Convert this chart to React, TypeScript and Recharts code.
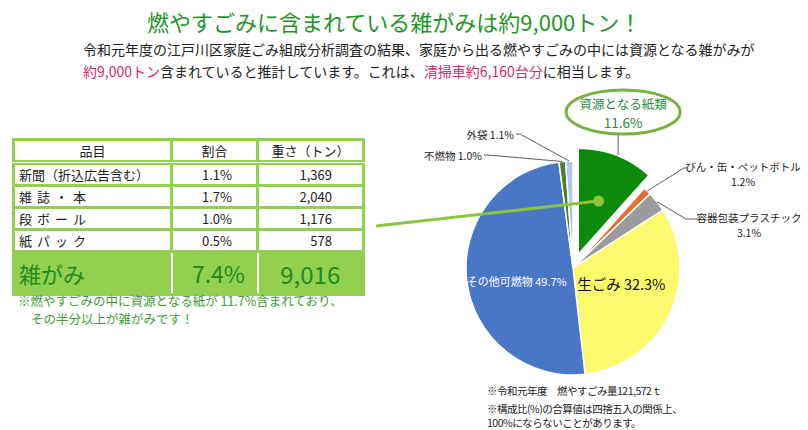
import React from 'react';
import { PieChart, Pie, Cell } from 'recharts';

// ---- data ----
const categories = ['資源となる紙類', 'びん・缶・ペットボトル', '容器包装プラスチック', '生ごみ', 'その他可燃物', '不燃物', '外袋'];
const shares = [11.6, 1.2, 3.1, 32.3, 49.7, 1.0, 1.1];

const tableHeaders = ['品目', '割合', '重さ（トン）'];
const paperItems = ['新聞（折込広告含む）', '雑誌・本', '段ボール', '紙パック'];
const paperShares = ['1.1%', '1.7%', '1.0%', '0.5%'];
const paperTons = ['1,369', '2,040', '1,176', '578'];
const totalLabel = '雑がみ';
const totalShare = '7.4%';
const totalTons = '9,016';

const pieData = categories.map((name, i) => ({ name, value: shares[i] }));

// ---- styles ----
const sliceColors = ['#0b8a0b', '#e2712f', '#9b9b9b', '#fafa6c', '#4a76c6', '#4f7d2c', '#aec8ea'];
const FONT = "'Noto Sans CJK JP', 'Noto Sans', sans-serif";
const RAD = Math.PI / 180;
const tableGreen = '#92d050';
const itemSpacing = [0, 5, 5, 5];

// label layout (positions of texts outside the pie)
const labelLayout: Record<string, any> = {
  'びん・缶・ペットボトル': { kind: 'right', tx: 743, ty: 166, lx: 688, elbow: 684 },
  '容器包装プラスチック': { kind: 'right', tx: 749, ty: 217, lx: 698, elbow: 686 },
  '不燃物': { kind: 'left', tx: 482, ty: 155 },
  '外袋': { kind: 'left', tx: 514, ty: 134 },
  'その他可燃物': { kind: 'inside', r: 0.53, dx: 0, dy: 6, color: '#ffffff', size: 11 },
  '生ごみ': { kind: 'inside', r: 0.5, dx: 0, dy: -7, color: '#111111', size: 14.5 },
};

const polar = (cx: number, cy: number, r: number, a: number) => ({
  x: cx + r * Math.cos(-a * RAD),
  y: cy + r * Math.sin(-a * RAD),
});

const renderMainLabel = (props: any) => {
  const { cx, cy, midAngle, outerRadius, name, value } = props;
  const lay = labelLayout[name];
  if (!lay) return null;
  const pct = `${value.toFixed(1)}%`;
  if (lay.kind === 'inside') {
    const p = polar(cx, cy, outerRadius * lay.r, midAngle);
    return (
      <text x={p.x + lay.dx} y={p.y + lay.dy} textAnchor="middle" dominantBaseline="central"
        fill={lay.color} fontSize={lay.size} fontFamily={FONT}>
        {`${name} ${pct}`}
      </text>
    );
  }
  const s = polar(cx, cy, outerRadius, midAngle);
  if (lay.kind === 'left') {
    return (
      <g>
        <polyline points={`${s.x},${s.y} ${lay.tx + 6},${lay.ty} ${lay.tx + 2},${lay.ty}`} fill="none" stroke="#333" strokeWidth={0.8} />
        <text x={lay.tx} y={lay.ty} textAnchor="end" dominantBaseline="central" fill="#222" fontSize={10.5} fontFamily={FONT}>
          {`${name} ${pct}`}
        </text>
      </g>
    );
  }
  return (
    <g>
      <polyline points={`${s.x},${s.y} ${lay.elbow},${lay.ty + 2} ${lay.lx},${lay.ty + 2}`} fill="none" stroke="#333" strokeWidth={0.8} />
      <text x={lay.tx} y={lay.ty} textAnchor="middle" dominantBaseline="central" fill="#222" fontSize={10.5} fontFamily={FONT}>
        {name}
      </text>
      <text x={lay.tx} y={lay.ty + 15} textAnchor="middle" dominantBaseline="central" fill="#222" fontSize={10.5} fontFamily={FONT}>
        {pct}
      </text>
    </g>
  );
};

const renderPaperLabel = (props: any) => {
  const { cx, cy, midAngle, outerRadius, name, value, index } = props;
  if (index !== 0) return null;
  const top = polar(cx, cy, outerRadius, midAngle);
  const dot = polar(cx, cy, outerRadius * 0.54, midAngle);
  const ex = top.x + 7;
  const ey = top.y - 43;
  return (
    <g>
      <line x1={dot.x} y1={dot.y} x2={376} y2={226} stroke="#8cc63f" strokeWidth={3} />
      <circle cx={dot.x} cy={dot.y} r={5.5} fill="#8cc63f" />
      <line x1={top.x + 2} y1={top.y} x2={top.x + 2} y2={ey + 22} stroke="#333" strokeWidth={0.8} />
      <ellipse cx={ex} cy={ey} rx={57} ry={22} fill="#ffffff" stroke="#77b043" strokeWidth={3} />
      <text x={ex} y={ey - 9} textAnchor="middle" dominantBaseline="central" fill="#2c8a3a" fontSize={12.5} fontFamily={FONT}>
        {name}
      </text>
      <text x={ex} y={ey + 10} textAnchor="middle" dominantBaseline="central" fill="#2c8a3a" fontSize={13.5} fontFamily={FONT}>
        {`${value.toFixed(1)}%`}
      </text>
    </g>
  );
};

const cellBase: React.CSSProperties = {
  border: `3px solid ${tableGreen}`,
  fontSize: 13,
  color: '#222',
  height: 19,
  padding: '0 4px',
  lineHeight: '19px',
  whiteSpace: 'nowrap',
};

export default function App() {
  return (
    <div style={{ position: 'absolute', left: 0, top: 0, width: 808, height: 430, background: '#fff', fontFamily: FONT, overflow: 'hidden' }}>
      {/* title */}
      <div style={{ position: 'absolute', left: 147, top: 6, fontSize: 22, color: '#1f962b', whiteSpace: 'nowrap', lineHeight: '30px' }}>
        燃やすごみに含まれている雑がみは約9,000トン！
      </div>
      <div style={{ position: 'absolute', left: 83, top: 38, fontSize: 14, color: '#222', whiteSpace: 'nowrap', lineHeight: '22px' }}>
        令和元年度の江戸川区家庭ごみ組成分析調査の結果、家庭から出る燃やすごみの中には資源となる雑がみが
        <br />
        <span style={{ color: '#d5276f' }}>約9,000トン</span>含まれていると推計しています。これは、
        <span style={{ color: '#d5276f' }}>清掃車約6,160台分</span>に相当します。
      </div>

      {/* table */}
      <table style={{ position: 'absolute', left: 12, top: 138, borderCollapse: 'collapse', width: 350, tableLayout: 'fixed' }}>
        <colgroup>
          <col style={{ width: 158 }} />
          <col style={{ width: 86 }} />
          <col style={{ width: 106 }} />
        </colgroup>
        <thead>
          <tr>
            {tableHeaders.map((h) => (
              <th key={h} style={{ ...cellBase, fontWeight: 400, textAlign: 'center', borderBottom: `5px double ${tableGreen}` }}>{h}</th>
            ))}
          </tr>
        </thead>
        <tbody>
          {paperItems.map((item, i) => (
            <tr key={item}>
              <td style={{ ...cellBase, textAlign: 'left', letterSpacing: itemSpacing[i] }}>{item}</td>
              <td style={{ ...cellBase, textAlign: 'right', paddingRight: 24 }}>{paperShares[i]}</td>
              <td style={{ ...cellBase, textAlign: 'right', paddingRight: 30 }}>{paperTons[i]}</td>
            </tr>
          ))}
          <tr style={{ background: tableGreen }}>
            <td style={{ ...cellBase, height: 40, fontSize: 22, color: '#1f8a1f', textAlign: 'left', borderRight: '2px solid #fff' }}>{totalLabel}</td>
            <td style={{ ...cellBase, height: 40, fontSize: 23, color: '#1f8a1f', textAlign: 'center', paddingLeft: 12, borderLeft: '2px solid #fff', borderRight: '2px solid #fff' }}>{totalShare}</td>
            <td style={{ ...cellBase, height: 40, fontSize: 24, color: '#1f8a1f', textAlign: 'center', borderLeft: '2px solid #fff' }}>{totalTons}</td>
          </tr>
        </tbody>
      </table>
      <div style={{ position: 'absolute', left: 18, top: 292, fontSize: 12.5, color: '#3f9a35', lineHeight: '18px', whiteSpace: 'nowrap' }}>
        ※燃やすごみの中に資源となる紙が 11.7%含まれており、
        <br />
        <span style={{ paddingLeft: 13 }}>その半分以上が雑がみです！</span>
      </div>

      {/* bottom notes */}
      <div style={{ position: 'absolute', left: 487, top: 384, fontSize: 10.5, letterSpacing: -0.5, color: '#222', lineHeight: '14px', whiteSpace: 'nowrap' }}>
        ※令和元年度　燃やすごみ量121,572ｔ
        <div style={{ marginTop: 4 }}>※構成比(%)の合算値は四捨五入の関係上、</div>
        <div>100%にならないことがあります。</div>
      </div>

      {/* pie */}
      <div style={{ position: 'absolute', left: 0, top: 0, pointerEvents: 'none' }}>
        <PieChart width={808} height={430} margin={{ top: 0, right: 0, bottom: 0, left: 0 }}>
          <Pie data={pieData} dataKey="value" nameKey="name" cx={573} cy={268} outerRadius={107}
            startAngle={90} endAngle={-270} isAnimationActive={false} label={renderMainLabel} labelLine={false}>
            {pieData.map((d, i) => (
              <Cell key={d.name} fill={i === 0 ? 'transparent' : sliceColors[i]} stroke={i === 0 ? 'none' : '#ffffff'} strokeWidth={1.5} />
            ))}
          </Pie>
          <Pie data={pieData} dataKey="value" nameKey="name" cx={578} cy={255} outerRadius={107}
            startAngle={90} endAngle={-270} isAnimationActive={false} label={renderPaperLabel} labelLine={false}>
            {pieData.map((d, i) => (
              <Cell key={d.name} fill={i === 0 ? sliceColors[0] : 'transparent'} stroke={i === 0 ? '#ffffff' : 'none'} strokeWidth={2} />
            ))}
          </Pie>
        </PieChart>
      </div>
    </div>
  );
}
